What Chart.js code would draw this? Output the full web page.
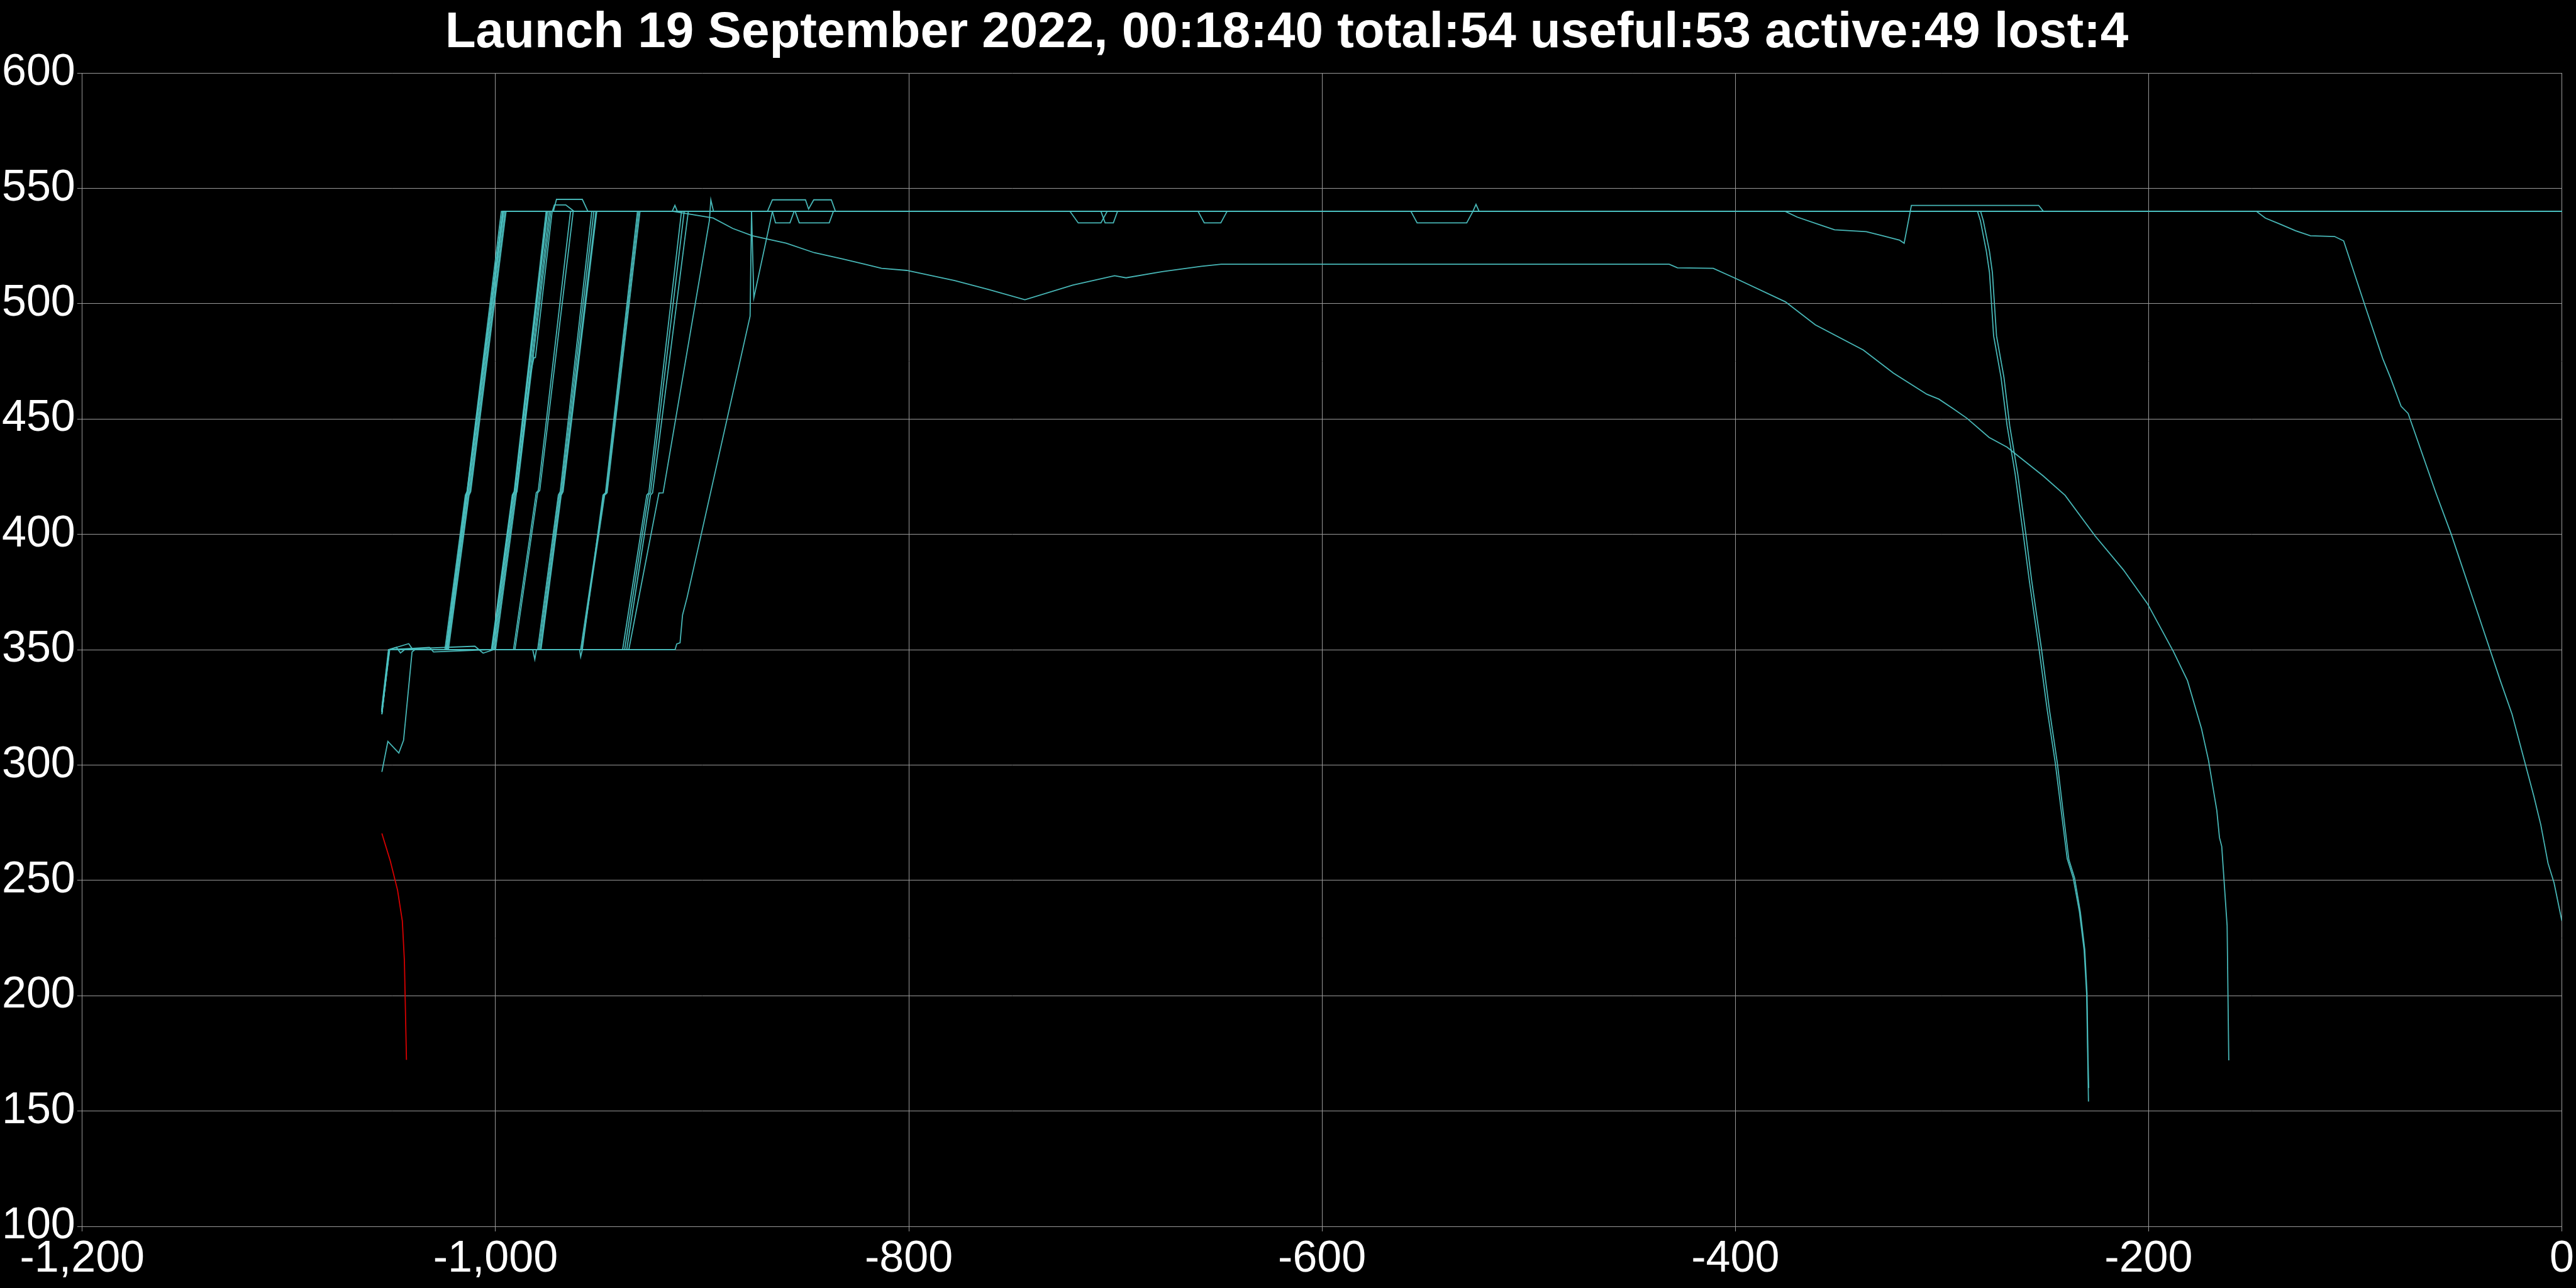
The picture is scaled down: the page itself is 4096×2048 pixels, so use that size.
<!DOCTYPE html>
<html><head><meta charset="utf-8">
<script src="https://cdn.jsdelivr.net/npm/chart.js@4"></script>
<style>html,body{margin:0;padding:0;background:#000;overflow:hidden}#wrap{width:4096px;height:2048px;position:relative}</style>
</head><body><div id="wrap"><canvas id="c"></canvas></div>
<script>
const titleText = 'Launch 19 September 2022, 00:18:40 total:54 useful:53 active:49 lost:4';
const xTicks = {min: -1200, max: 0, step: 200};
const yTicks = {min: 100, max: 600, step: 50};

// altitude traces [day, km]
const red1 = [[-1055,270.3],[-1050.9,258.3],[-1047.4,245.7],[-1045.1,232.4],[-1044.1,215.2],[-1043.1,172.2]];

const A1 = [[-1055,323],[-1051.5,350],[-1048,351],[-1046,348.6],[-1044,350],[-1024.5,350],[-1014.6,417],[-1013.8,418.5],[-997.2,540],[0,540]];
const A2 = [[-1055,322],[-1051.3,350],[-1024,350],[-1014.2,417],[-1013.4,418.5],[-996.6,540],[-972,540],[-970.5,545.2],[-958,545.2],[-955.3,540],[0,540]];
const A3 = [[-1055,324],[-1051.6,350],[-1042,352.6],[-1040,350],[-1023.6,350],[-1013.7,417],[-1012.9,418.5],[-996,540],[-972.5,540],[-971.5,542.8],[-966,542.8],[-962,540],[0,540]];
const A4 = [[-1055,323],[-1051.2,350],[-1023.2,350],[-1013.2,417],[-1012.4,418.5],[-995.4,540],[0,540]];
const A5 = [[-1055,325],[-1051.8,350],[-1023.8,350],[-1013.9,417.5],[-996.3,540],[0,540]];
const A6 = [[-1055,323.5],[-1051.6,350],[-1022.8,350],[-1012.8,417],[-1012,418.5],[-994.9,540],[0,540]];

const B1 = [[-1055,323],[-1051.5,350],[-1032,351],[-1030,349],[-1002,350],[-991.9,417],[-991,418.5],[-975.5,540],[-914.5,540],[-913.2,542.6],[-912,540],[0,540]];
const B2 = [[-1055,322],[-1051.4,350],[-1001.5,350],[-991.5,417],[-990.6,418.5],[-974.8,540],[-868.4,540],[-866,545],[-850,545],[-848.5,541],[-846,545],[-837.5,545],[-835.5,540],[0,540]];
const B3 = [[-1055,324],[-1051.6,350],[-1010,351.5],[-1006,348.5],[-1001,350],[-991,417],[-990.1,418.5],[-974,540],[-866,540],[-864.5,535],[-857.5,535],[-855.5,540],[0,540]];
const B4 = [[-1055,323],[-1051.5,350],[-1000.5,350],[-990.5,417],[-989.6,418.5],[-973.3,540],[-855,540],[-853,535],[-838.5,535],[-836.5,540],[0,540]];
const B5 = [[-1055,297],[-1052.1,310.2],[-1046.8,305.2],[-1044.5,310.7],[-1040.4,349],[-1039,350],[-1000,350],[-990,417],[-983,470],[-981.4,476.6],[-980.7,476.6],[-972.6,540],[0,540]];
const B6 = [[-1055,323.5],[-1051.5,350],[-1001.8,350],[-991.7,417],[-990.8,418.5],[-975,540],[0,540]];

const C1 = [[-1055,323],[-1051.5,350],[-991.3,350],[-980.3,418],[-979.3,419],[-963.7,540],[-722,540],[-718,535],[-707,535],[-704,540],[0,540]];
const C2 = [[-1055,323],[-1051.5,350],[-990.6,350],[-979.6,418],[-978.6,419],[-962.4,540],[-707,540],[-705,535],[-701,535],[-699,540],[0,540]];

const D1 = [[-1055,323],[-1051.5,350],[-982,350],[-981,345.8],[-980.2,350],[-979.6,350],[-969.6,417],[-968.7,418.5],[-953.4,540],[-660,540],[-657,535],[-649,535],[-646,540],[0,540]];
const D2 = [[-1055,323],[-1051.5,350],[-979,350],[-969.1,417],[-968.2,418.5],[-952.4,540],[-557,540],[-554,535],[-530,535],[-527,540],[-525.5,543],[-524,540],[0,540]];
const D3 = [[-1055,323],[-1051.5,350],[-978.4,350],[-968.6,417],[-967.7,418.5],[-951.4,540],[-282.8,540],[-281.4,536],[-278.5,522.6],[-277,513.5],[-275,486],[-271.4,468],[-268.5,447.2],[-264.6,426.3],[-260.7,400.3],[-257.8,380.4],[-253,350.2],[-249.1,324.1],[-245.2,301.2],[-242.3,280.3],[-239.4,259.4],[-236.5,251.1],[-233.5,236.5],[-231.2,219.8],[-230,201],[-229.5,176],[-229.1,154.1]];
const D4 = [[-1055,323],[-1051.5,350],[-978,350],[-968.2,417],[-967.3,418.5],[-951,540],[-281.3,540],[-280,536],[-277,522.6],[-275.6,513.5],[-273.6,486],[-270,468],[-267.2,447],[-263.3,426],[-259.4,400],[-256.6,380],[-251.8,350],[-248,324],[-244.2,301],[-241.4,280],[-238.6,259],[-235.8,251],[-233,236],[-230.9,220],[-229.8,201],[-229.4,176],[-229,160]];

const E1 = [[-1055,323],[-1051.5,350],[-959.3,350],[-958.8,346.9],[-958,350],[-948,417],[-946.8,418],[-931.3,540],[0,540]];
const E2 = [[-1055,323],[-1051.5,350],[-958.3,350],[-947.2,417],[-946,418],[-930.1,540],[0,540]];
const E3 = [[-1055,323],[-1051.5,350],[-958.8,350],[-947.6,417],[-946.4,418],[-930.7,540],[-914,540],[-894.7,537.1],[-885.2,532.6],[-875.7,529.4],[-859.4,526.2],[-845.8,522.1],[-832.2,519.4],[-821.3,517.1],[-813.2,515.3],[-801,514.4],[-777.8,510],[-761.6,506.2],[-743.8,501.7],[-720.7,508],[-700.4,512.1],[-694.9,511.2],[-677.3,513.9],[-658.3,516.2],[-648.8,517.1],[-432,517.1],[-428,515.5],[-410.7,515.3],[-400.5,511.2],[-375.8,500.8],[-361.3,490.8],[-338.1,479.9],[-323.5,469.9],[-307.3,460.7],[-301.5,458.6],[-294.5,454.4],[-287.9,450.3],[-277.2,442],[-268.5,437.8],[-251,425.3],[-240.4,416.9],[-225.8,399.2],[-212.2,384.6],[-200.6,370],[-188,349.2],[-181.2,336.6],[-174.4,315.8],[-171,302],[-167,280.3],[-165.7,268.5],[-164.6,264.7],[-162,230.3],[-161.2,172]];

const F1 = [[-1055,323],[-1051.5,350],[-938.5,350],[-926.8,417],[-925.8,418],[-910,540],[-147.8,540],[-143.5,537.1],[-136.2,534.4],[-128.9,531.6],[-121.7,529.4],[-110,529.1],[-105.6,527.2],[-95.6,500],[-86.7,476.2],[-83,468],[-77.8,455.5],[-74.4,452.4],[-61,418],[-53.6,400.2],[-40.3,364.8],[-29.8,336.6],[-24.1,322],[-13.6,286.6],[-10.2,274.1],[-6.7,257.4],[-3.8,249],[0,232.4]];
const F2 = [[-1055,323],[-1051.5,350],[-937.5,350],[-926,417],[-925,418],[-908.7,540],[-375.8,540],[-370,537.5],[-358.3,533.9],[-352,532],[-336.6,531.2],[-329,529.5],[-320.5,527.5],[-318.3,526.2],[-314.8,542.6],[-253.2,542.6],[-250.9,540],[0,540]];
const F3 = [[-1055,323],[-1051.5,350],[-936.5,350],[-925,417],[-924,418],[-906.7,540],[0,540]];
const G1 = [[-1055,323],[-1051.5,350],[-935.5,350],[-920.9,417.9],[-918.9,418],[-896.5,536],[-895.8,545],[-894.5,540],[0,540]];
const G2 = [[-1055,323],[-1051.5,350],[-913.1,350],[-912.3,352.5],[-910.7,353],[-909.5,365],[-907.3,372.6],[-876.8,494.6],[-876.1,540],[-875,502.5],[-866,540],[0,540]];

const tealTraces = [A1,A2,A3,A4,A5,A6,B1,B2,B3,B4,B5,B6,C1,C2,D1,D2,D3,D4,E1,E2,E3,F1,F2,F3,G1,G2];
const redTraces = [red1];

const TEAL = 'rgba(75,192,192,0.95)';
const RED = 'rgb(215,0,0)';
const datasets = [];
redTraces.forEach(d => datasets.push({data: d, showLine: true, borderColor: RED, borderWidth: 1.8, pointRadius: 0, tension: 0}));
tealTraces.forEach(d => datasets.push({data: d, showLine: true, borderColor: TEAL, borderWidth: 1.8, pointRadius: 0, tension: 0}));

const FONT = 'Liberation Sans';
new Chart(document.getElementById('c'), {
  type: 'scatter',
  data: {datasets},
  options: {
    responsive: true, maintainAspectRatio: false, devicePixelRatio: 1, animation: false,
    layout: {padding: {left: 0, right: 4, top: 0, bottom: 0}},
    plugins: {
      legend: {display: false}, tooltip: {enabled: false},
      title: {display: true, text: titleText, color: '#fff', font: {family: FONT, size: 80, weight: 'bold'}, padding: {top: 5, bottom: 15}}
    },
    scales: {
      x: {type: 'linear', min: xTicks.min, max: xTicks.max,
          ticks: {stepSize: xTicks.step, color: '#fff', font: {family: FONT, size: 70}, maxRotation: 0, padding: 3},
          grid: {color: '#9a9a9a', lineWidth: 1, tickLength: 8}, border: {color: '#9a9a9a'}},
      y: {type: 'linear', min: yTicks.min, max: yTicks.max,
          ticks: {stepSize: yTicks.step, color: '#fff', font: {family: FONT, size: 70}, padding: 3},
          grid: {color: '#9a9a9a', lineWidth: 1, tickLength: 8}, border: {color: '#9a9a9a'}}
    }
  }
});
</script></body></html>
